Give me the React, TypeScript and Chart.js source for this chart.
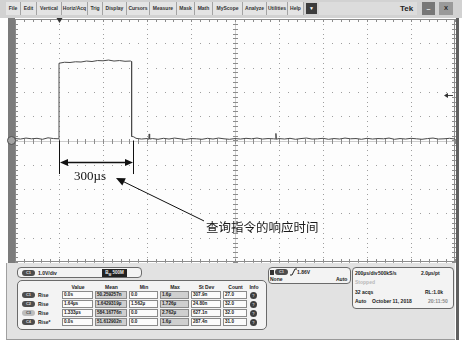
import React, { useEffect, useRef } from "react";
import { Chart, registerables } from "chart.js";

Chart.register(...registerables);

// ---------- Waveform data (CH1, time in µs, voltage in V) ----------
const timeUs: number[] = [
  -200, -175, -150, -125, -100, -75, -50, -25, 0,
  0, 25, 50, 75, 100, 125, 150, 175, 200, 225, 250, 275, 300, 325, 330,
  330, 340, 350, 375, 400, 408, 410, 412, 425, 450, 475, 500, 525, 550, 575, 600,
  625, 650, 675, 700, 725, 750, 775, 800, 825, 850, 875, 900, 925, 950, 975, 984, 986, 988,
  1000, 1025, 1050, 1075, 1100, 1125, 1150, 1175, 1200, 1225, 1250, 1275, 1300, 1325, 1350, 1375,
  1400, 1425, 1450, 1475, 1500, 1525, 1550, 1575, 1600, 1625, 1650, 1675, 1700, 1725, 1750, 1775, 1800,
];
const volts: number[] = [
  0.08, 0.06, 0.10, 0.07, 0.09, 0.05, 0.11, 0.08, 0.07,
  3.18, 3.22, 3.21, 3.24, 3.23, 3.27, 3.25, 3.29, 3.28, 3.31, 3.27, 3.29, 3.26, 3.27, 3.25,
  0.17, 0.15, 0.09, 0.06, 0.08, 0.05, 0.27, 0.06, 0.08, 0.05, 0.09, 0.06, 0.10, 0.07, 0.04, 0.08,
  0.07, 0.05, 0.09, 0.06, 0.10, 0.07, 0.05, 0.08, 0.06, 0.09, 0.07, 0.10, 0.06, 0.08, 0.07, 0.06, 0.29, 0.05,
  0.08, 0.06, 0.09, 0.05, 0.08, 0.10, 0.06, 0.07, 0.09, 0.05, 0.08, 0.06, 0.10, 0.07, 0.08, 0.05,
  0.09, 0.06, 0.08, 0.07, 0.10, 0.05, 0.08, 0.06, 0.09, 0.07, 0.05, 0.08, 0.10, 0.06, 0.07, 0.09, 0.06,
];

// graticule: 200 µs/div, 1 V/div, 10 x 10 divisions
const X_MIN = -200;
const X_MAX = 1800;
const X_STEP = 200;
const Y_MIN = -5;
const Y_MAX = 5;
const Y_STEP = 1;
const TRIG_LEVEL = 1.86;

// annotation text
const measLabel = "300µs";
const caption = "查询指令的响应时间";

// menu
const menuItems = ["File", "Edit", "Vertical", "Horiz/Acq", "Trig", "Display", "Cursors", "Measure", "Mask", "Math", "MyScope", "Analyze", "Utilities", "Help"];

// measurement table
const measHeaders = ["Value", "Mean", "Min", "Max", "St Dev", "Count", "Info"];
const measSources = ["C1", "C2", "C3", "C4"];
const measNames = ["Rise", "Rise", "Rise", "Rise*"];
const measValue = ["0.0s", "1.64µs", "1.333µs", "0.0s"];
const measMean = ["50.259257n", "1.6429319µ", "584.16776n", "51.612902n"];
const measMin = ["0.0", "1.562µ", "0.0", "0.0"];
const measMax = ["1.6µ", "1.726µ", "2.762µ", "1.6µ"];
const measStdDev = ["307.9n", "24.80n", "627.1n", "287.4n"];
const measCount = ["27.0", "32.0", "32.0", "31.0"];

// ---------- layout (not data) ----------
const menuEdges = [6, 21, 37, 62, 88, 103, 127, 150, 177, 195, 213, 243, 267, 288, 304];
const colLeft = [62, 95, 129, 160, 191, 223, 249];
const colWidth = [32, 33, 30, 30, 31, 25, 10];
const colShade = [false, true, false, true, false, false, false];
const rowTop = [291, 300, 309, 318];

function arrowHead(ctx: CanvasRenderingContext2D, fx: number, fy: number, tx: number, ty: number, len: number, half: number) {
  const a = Math.atan2(ty - fy, tx - fx);
  ctx.beginPath();
  ctx.moveTo(tx, ty);
  ctx.lineTo(tx - len * Math.cos(a) + half * Math.sin(a), ty - len * Math.sin(a) - half * Math.cos(a));
  ctx.lineTo(tx - len * Math.cos(a) - half * Math.sin(a), ty - len * Math.sin(a) + half * Math.cos(a));
  ctx.closePath();
  ctx.fill();
}

const scopePlugin = {
  id: "scopeDecor",
  beforeDraw(chart: any) {
    const { ctx, chartArea: ca, scales } = chart;
    const x = scales.x;
    const y = scales.y;
    const w = ca.right - ca.left;
    const h = ca.bottom - ca.top;
    ctx.save();
    ctx.fillStyle = "#ffffff";
    ctx.fillRect(0, 0, chart.width, chart.height);
    // side bars
    ctx.fillStyle = "#7c7c7c";
    ctx.fillRect(8, ca.top - 1, 7, h + 2);
    ctx.fillStyle = "#606060";
    ctx.fillRect(ca.right + 1, ca.top - 1, 3, chart.height - ca.top);
    // plot bg
    ctx.fillStyle = "#fdfdfd";
    ctx.fillRect(ca.left, ca.top, w, h);
    const xs: number[] = [];
    for (let v = X_MIN; v <= X_MAX + 1e-6; v += X_STEP / 5) xs.push(Math.round(x.getPixelForValue(v)));
    const ys: number[] = [];
    for (let v = Y_MIN; v <= Y_MAX + 1e-6; v += Y_STEP / 5) ys.push(Math.round(y.getPixelForValue(v)));
    const xMajor = xs.filter((_, i) => i % 5 === 0);
    const yMajor = ys.filter((_, i) => i % 5 === 0);
    ctx.fillStyle = "#9e9e9e";
    for (const px of xMajor) for (const py of ys) ctx.fillRect(px, py, 1, 1);
    for (const py of yMajor) for (const px of xs) ctx.fillRect(px, py, 1, 1);
    const cx = Math.round(x.getPixelForValue((X_MIN + X_MAX) / 2));
    const cy = Math.round(y.getPixelForValue((Y_MIN + Y_MAX) / 2));
    ctx.fillStyle = "#cdcdcd";
    ctx.fillRect(ca.left, cy, w, 1);
    ctx.fillRect(cx, ca.top, 1, h);
    ctx.fillStyle = "#8c8c8c";
    for (const px of xs) {
      ctx.fillRect(px, cy - 2, 1, 5);
      ctx.fillRect(px, ca.top, 1, 3);
      ctx.fillRect(px, ca.bottom - 3, 1, 3);
    }
    for (const py of ys) {
      ctx.fillRect(cx - 2, py, 5, 1);
      ctx.fillRect(ca.left, py, 3, 1);
      ctx.fillRect(ca.right - 3, py, 3, 1);
    }
    ctx.strokeStyle = "#8c8c8c";
    ctx.lineWidth = 1;
    ctx.strokeRect(ca.left + 0.5, ca.top + 0.5, w - 1, h - 1);
    ctx.restore();
  },
  afterDatasetsDraw(chart: any) {
    const { ctx, chartArea: ca, scales } = chart;
    const x = scales.x;
    const y = scales.y;
    ctx.save();
    // ground marker
    const gy = y.getPixelForValue(0);
    ctx.beginPath();
    ctx.arc(11.5, gy, 4, 0, Math.PI * 2);
    ctx.fillStyle = "#a4a4a4";
    ctx.fill();
    ctx.strokeStyle = "#505050";
    ctx.lineWidth = 1;
    ctx.stroke();
    // trigger position
    const tx = Math.round(x.getPixelForValue(0)) + 0.5;
    ctx.fillStyle = "#333";
    ctx.beginPath();
    ctx.moveTo(tx - 3, ca.top - 1);
    ctx.lineTo(tx + 3, ca.top - 1);
    ctx.lineTo(tx, ca.top + 4);
    ctx.closePath();
    ctx.fill();
    // trigger level
    const ty = Math.round(y.getPixelForValue(TRIG_LEVEL)) + 0.5;
    ctx.strokeStyle = "#444";
    ctx.beginPath();
    ctx.moveTo(ca.right - 2, ty);
    ctx.lineTo(ca.right - 9, ty);
    ctx.stroke();
    arrowHead(ctx, ca.right - 2, ty, ca.right - 11, ty, 4, 2.5);

    // annotations
    ctx.strokeStyle = "#111";
    ctx.fillStyle = "#111";
    ctx.lineWidth = 1;
    const a0 = Math.round(x.getPixelForValue(0)) + 0.5;
    const a1 = Math.round(x.getPixelForValue(336)) + 0.5;
    const yTop = y.getPixelForValue(0);
    const yBot = y.getPixelForValue(-1.38);
    ctx.beginPath();
    ctx.moveTo(a0, yTop);
    ctx.lineTo(a0, yBot);
    ctx.moveTo(a1, yTop);
    ctx.lineTo(a1, yBot);
    ctx.stroke();
    const ay = Math.round(y.getPixelForValue(-0.87)) + 0.5;
    ctx.lineWidth = 1.5;
    ctx.beginPath();
    ctx.moveTo(a0 + 5, ay);
    ctx.lineTo(a1 - 5, ay);
    ctx.stroke();
    arrowHead(ctx, a1, ay, a0 + 0.5, ay, 8, 3.5);
    arrowHead(ctx, a0, ay, a1 - 0.5, ay, 8, 3.5);

    ctx.font = '13px "Liberation Serif", "Times New Roman", serif';
    ctx.textBaseline = "middle";
    ctx.textAlign = "left";
    ctx.fillText(measLabel, x.getPixelForValue(68), y.getPixelForValue(-1.49));

    const fx = x.getPixelForValue(659);
    const fy = y.getPixelForValue(-3.31);
    const ex = x.getPixelForValue(259);
    const ey = y.getPixelForValue(-1.54);
    ctx.lineWidth = 1;
    ctx.beginPath();
    ctx.moveTo(fx, fy);
    ctx.lineTo(ex + 4, ey + 2);
    ctx.stroke();
    arrowHead(ctx, fx, fy, ex, ey, 9, 4);

    ctx.font = '12.5px "Noto Sans CJK SC", sans-serif';
    ctx.fillStyle = "#1a1a1a";
    ctx.fillText(caption, x.getPixelForValue(668), y.getPixelForValue(-3.56));
    ctx.restore();
  },
};

const txtBase: React.CSSProperties = {
  position: "absolute",
  fontSize: 5,
  lineHeight: "6px",
  fontWeight: 700,
  color: "#222",
  whiteSpace: "nowrap",
};

function T({ l, t, s, st }: { l: number; t: number; s: string; st?: React.CSSProperties }) {
  return <div style={{ ...txtBase, left: l, top: t, ...st }}>{s}</div>;
}

function Pill({ l, t, s, light }: { l: number; t: number; s: string; light?: boolean }) {
  return (
    <div
      style={{
        position: "absolute",
        left: l,
        top: t,
        width: 13,
        height: 6,
        borderRadius: 3,
        background: light ? "#bdbdbd" : "#4c4c4c",
        color: light ? "#444" : "#ddd",
        fontSize: 4,
        lineHeight: "6px",
        fontWeight: 700,
        textAlign: "center",
      }}
    >
      {s}
    </div>
  );
}

const boxStyle: React.CSSProperties = {
  position: "absolute",
  border: "1px solid #6a6a6a",
  borderRadius: 4,
  background: "#f3f3f3",
  boxSizing: "border-box",
};

export default function App() {
  const ref = useRef<HTMLCanvasElement>(null);
  useEffect(() => {
    const chart = new Chart(ref.current as HTMLCanvasElement, {
      type: "line",
      data: {
        datasets: [
          {
            label: "CH1",
            data: timeUs.map((t, i) => ({ x: t, y: volts[i] })),
            borderColor: "#4a4a4a",
            borderWidth: 1,
            pointRadius: 0,
            tension: 0,
            fill: false,
          },
        ],
      },
      options: {
        animation: false,
        responsive: false,
        devicePixelRatio: 1,
        layout: { padding: { left: 15, top: 19, right: 7, bottom: 79 } },
        plugins: { legend: { display: false }, tooltip: { enabled: false } },
        scales: {
          x: { type: "linear", min: X_MIN, max: X_MAX, display: false },
          y: { type: "linear", min: Y_MIN, max: Y_MAX, display: false },
        },
      },
      plugins: [scopePlugin],
    });
    return () => chart.destroy();
  }, []);

  return (
    <div
      style={{
        position: "fixed",
        left: 0,
        top: 0,
        width: 462,
        height: 341,
        overflow: "hidden",
        background: "#fff",
        fontFamily: '"Liberation Sans", Arial, sans-serif',
      }}
    >
      <canvas ref={ref} width={462} height={341} style={{ position: "absolute", left: 0, top: 0, width: 462, height: 341 }} />

      {/* menu bar */}
      <div style={{ position: "absolute", left: 0, top: 0, width: 462, height: 18, background: "#d2d2d2" }} />
      {menuItems.map((m, i) => (
        <div
          key={m}
          style={{
            position: "absolute",
            left: menuEdges[i],
            top: 2,
            width: menuEdges[i + 1] - menuEdges[i],
            height: 13,
            background: "#e4e4e4",
            borderRight: "1px solid #a4a4a4",
            boxSizing: "border-box",
            fontSize: 5,
            lineHeight: "13px",
            textAlign: "center",
            color: "#333",
            fontWeight: 700,
          }}
        >
          {m}
        </div>
      ))}
      <div style={{ position: "absolute", left: 306, top: 3, width: 11, height: 11, background: "#3c3c3c", color: "#fff", fontSize: 5, lineHeight: "11px", textAlign: "center" }}>▼</div>
      <div style={{ position: "absolute", left: 319, top: 2, width: 98, height: 13, background: "#dcdcdc" }} />
      <div style={{ position: "absolute", left: 400, top: 3, fontSize: 8, lineHeight: "11px", fontWeight: 700, color: "#222" }}>Tek</div>
      <div style={{ position: "absolute", left: 422, top: 2, width: 13, height: 13, background: "#777", color: "#eee", fontSize: 7, lineHeight: "13px", textAlign: "center", fontWeight: 700 }}>–</div>
      <div style={{ position: "absolute", left: 439, top: 2, width: 14, height: 13, background: "#9a9a9a", color: "#222", fontSize: 6, lineHeight: "13px", textAlign: "center", fontWeight: 700 }}>X</div>

      {/* bottom panel */}
      <div style={{ position: "absolute", left: 6, top: 263, width: 449, height: 77, background: "#e2e2e2", borderLeft: "1px solid #a0a0a0", borderBottom: "1px solid #999", boxSizing: "border-box" }} />

      {/* vertical box */}
      <div style={{ ...boxStyle, left: 17, top: 267, width: 125, height: 11 }} />
      <Pill l={22} t={269.5} s="C1" />
      <T l={38} t={269.5} s="1.0V/div" />
      <div style={{ position: "absolute", left: 102, top: 268.5, width: 25, height: 8, background: "#222", color: "#eee", fontSize: 4.5, lineHeight: "8px", fontWeight: 700, textAlign: "center" }}>
        B<sub style={{ fontSize: 3 }}>W</sub> 500M
      </div>

      {/* measurement table */}
      <div style={{ ...boxStyle, left: 17, top: 280, width: 250, height: 50, borderRadius: 5 }} />
      {measHeaders.map((h, c) => (
        <T key={h} l={colLeft[c]} t={283.5} s={h} st={{ width: colWidth[c], textAlign: "center" }} />
      ))}
      {measSources.map((src, r) => (
        <React.Fragment key={src}>
          <Pill l={22} t={rowTop[r] + 0.5} s={src} light={r === 2} />
          <T l={38} t={rowTop[r] + 0.5} s={measNames[r]} />
          {[measValue[r], measMean[r], measMin[r], measMax[r], measStdDev[r], measCount[r]].map((v, c) => (
            <div
              key={c}
              style={{
                position: "absolute",
                left: colLeft[c],
                top: rowTop[r],
                width: colWidth[c] - 1,
                height: 8,
                boxSizing: "border-box",
                border: "1px solid #8a8a8a",
                background: colShade[c] ? "#cfcfcf" : "#fbfbfb",
                fontSize: 4.6,
                lineHeight: "6px",
                fontWeight: 700,
                color: "#222",
                paddingLeft: 1,
                whiteSpace: "nowrap",
                overflow: "hidden",
              }}
            >
              {v}
            </div>
          ))}
          <div style={{ position: "absolute", left: 250, top: rowTop[r] + 0.5, width: 7, height: 7, borderRadius: 4, background: "#3e3e3e", color: "#ccc", fontSize: 4, lineHeight: "7px", textAlign: "center", fontWeight: 700 }}>?</div>
        </React.Fragment>
      ))}

      {/* trigger box */}
      <div style={{ ...boxStyle, left: 268, top: 267, width: 83, height: 17 }} />
      <div style={{ position: "absolute", left: 270, top: 269.5, width: 4, height: 5, background: "#333" }} />
      <Pill l={275} t={269} s="C1" />
      <svg style={{ position: "absolute", left: 290, top: 268 }} width={7} height={8}>
        <polyline points="0,7 2,7 5,1 7,1" fill="none" stroke="#222" strokeWidth={1} />
      </svg>
      <T l={297} t={269} s="1.86V" />
      <T l={270} t={276} s="None" />
      <T l={336} t={276} s="Auto" />

      {/* timebase box */}
      <div style={{ ...boxStyle, left: 352, top: 267, width: 102, height: 42 }} />
      <T l={355} t={269.5} s="200µs/div" />
      <T l={378} t={269.5} s="500kS/s" />
      <T l={421} t={269.5} s="2.0µs/pt" />
      <T l={355} t={279} s="Stopped" st={{ color: "#b8b8b8" }} />
      <T l={355} t={288.5} s="32 acqs" />
      <T l={425} t={288.5} s="RL:1.0k" />
      <T l={355} t={297.5} s="Auto" />
      <T l={372} t={297.5} s="October 11, 2018" />
      <T l={428} t={297.5} s="20:11:50" st={{ color: "#888" }} />
    </div>
  );
}
